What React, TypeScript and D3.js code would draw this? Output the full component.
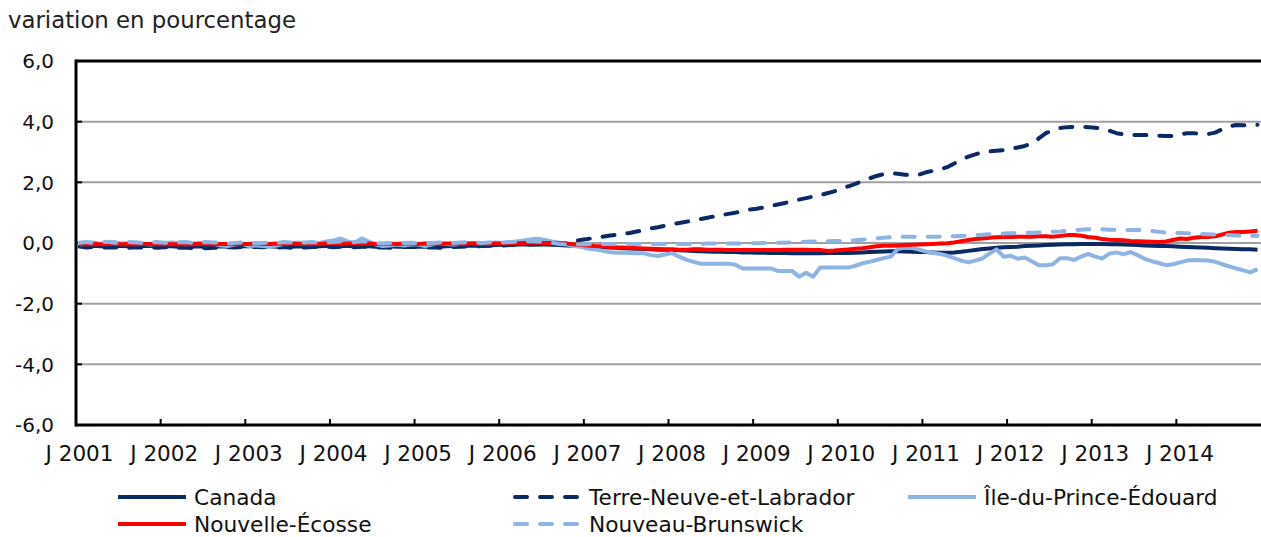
import * as d3 from "d3";

const FONT = "'DejaVu Sans', Verdana, sans-serif";

const yearLabels = ["J 2001", "J 2002", "J 2003", "J 2004", "J 2005", "J 2006", "J 2007", "J 2008", "J 2009", "J 2010", "J 2011", "J 2012", "J 2013", "J 2014"];
const yTicks = [-6, -4, -2, 0, 2, 4, 6];

// monthly values, Jan 2001 - Dec 2014 (one row per year)
const canada = [
  -0.08, -0.1, -0.09, -0.11, -0.1, -0.09, -0.1, -0.11, -0.1, -0.09, -0.1, -0.11,
  -0.1, -0.11, -0.12, -0.11, -0.12, -0.11, -0.12, -0.12, -0.11, -0.12, -0.11, -0.1,
  -0.11, -0.1, -0.1, -0.11, -0.12, -0.11, -0.12, -0.11, -0.12, -0.12, -0.11, -0.1,
  -0.1, -0.09, -0.1, -0.11, -0.1, -0.11, -0.12, -0.12, -0.11, -0.12, -0.12, -0.11,
  -0.12, -0.12, -0.11, -0.12, -0.11, -0.1, -0.1, -0.09, -0.09, -0.08, -0.08, -0.07,
  -0.06, -0.06, -0.05, -0.05, -0.05, -0.04, -0.05, -0.06, -0.07, -0.08, -0.09, -0.1,
  -0.12, -0.13, -0.14, -0.15, -0.16, -0.17, -0.18, -0.19, -0.2, -0.21, -0.22, -0.22,
  -0.23, -0.24, -0.25, -0.26, -0.27, -0.28, -0.29, -0.29, -0.3, -0.3, -0.31, -0.31,
  -0.32, -0.32, -0.33, -0.33, -0.33, -0.34, -0.34, -0.34, -0.34, -0.34, -0.33, -0.33,
  -0.33, -0.33, -0.32, -0.31, -0.3, -0.29, -0.28, -0.27, -0.27, -0.28, -0.29, -0.3,
  -0.3, -0.31, -0.32, -0.32, -0.31, -0.29, -0.26, -0.23, -0.2, -0.18, -0.16, -0.14,
  -0.13, -0.12, -0.1, -0.09, -0.08, -0.07, -0.06, -0.05, -0.04, -0.04, -0.03, -0.03,
  -0.03, -0.03, -0.04, -0.04, -0.05, -0.06, -0.07, -0.08, -0.09, -0.1, -0.1, -0.11,
  -0.12, -0.13, -0.14, -0.15, -0.16, -0.17, -0.18, -0.19, -0.2, -0.21, -0.21, -0.22,
];

const terreNeuve = [
  -0.12, -0.15, -0.13, -0.16, -0.14, -0.15, -0.13, -0.16, -0.14, -0.15, -0.13, -0.16,
  -0.14, -0.15, -0.16, -0.15, -0.17, -0.15, -0.17, -0.16, -0.15, -0.14, -0.15, -0.13,
  -0.15, -0.13, -0.14, -0.12, -0.15, -0.13, -0.16, -0.14, -0.15, -0.13, -0.14, -0.12,
  -0.14, -0.12, -0.13, -0.14, -0.12, -0.13, -0.15, -0.14, -0.16, -0.14, -0.13, -0.12,
  -0.14, -0.15, -0.14, -0.16, -0.15, -0.13, -0.12, -0.11, -0.12, -0.1, -0.09, -0.1,
  -0.08, -0.07, -0.05, -0.04, -0.05, -0.04, -0.05, -0.04, -0.03, 0.0, 0.05, 0.1,
  0.13, 0.17, 0.2, 0.24, 0.27, 0.3, 0.33, 0.38, 0.43, 0.48, 0.52, 0.57,
  0.62, 0.66, 0.7, 0.75, 0.79, 0.83, 0.88, 0.92, 0.96, 1.0, 1.05, 1.1,
  1.13, 1.17, 1.22, 1.27, 1.32, 1.37, 1.43, 1.48, 1.53, 1.58, 1.64, 1.7,
  1.8, 1.87, 1.95, 2.05, 2.13, 2.21, 2.27, 2.3, 2.28, 2.25, 2.24, 2.25,
  2.33, 2.38, 2.43, 2.5, 2.62, 2.75, 2.85, 2.92, 3.0, 3.02, 3.04, 3.06,
  3.1, 3.15, 3.2, 3.28, 3.45, 3.62, 3.72, 3.79, 3.82, 3.83, 3.83, 3.82,
  3.8, 3.77, 3.7, 3.62, 3.58, 3.56, 3.56, 3.56, 3.55, 3.54, 3.53, 3.53,
  3.58, 3.62, 3.62, 3.6, 3.59, 3.64, 3.75, 3.85, 3.89, 3.88, 3.88, 3.9,
];

const ilePE = [
  -0.05, 0.0, 0.02, -0.03, 0.0, 0.03, -0.02, 0.0, 0.02, -0.02, -0.05, -0.02,
  0.0, 0.02, 0.0, -0.04, -0.02, 0.0, 0.02, -0.03, -0.08, -0.1, -0.05, -0.02,
  -0.1, -0.08, -0.1, -0.12, -0.08, -0.03, 0.0, 0.02, 0.0, -0.02, 0.0, 0.05,
  0.08, 0.15, 0.05, 0.0, 0.15, 0.05, -0.05, -0.1, -0.08, -0.05, -0.08, -0.05,
  -0.05, -0.1, -0.05, 0.0, -0.03, -0.05, -0.03, 0.0, 0.0, -0.02, 0.0, 0.02,
  0.0, 0.02, 0.05, 0.08, 0.12, 0.14, 0.1, 0.05, 0.01, -0.05, -0.1, -0.12,
  -0.18, -0.21, -0.25, -0.3, -0.32, -0.32, -0.33, -0.34, -0.34, -0.4, -0.43, -0.38,
  -0.33, -0.45, -0.55, -0.62, -0.68, -0.68, -0.68, -0.68, -0.68, -0.72, -0.84, -0.84,
  -0.84, -0.84, -0.84, -0.92, -0.92, -0.92, -1.11, -0.98, -1.11, -0.81, -0.81, -0.81,
  -0.81, -0.81, -0.75, -0.67, -0.62, -0.56, -0.5, -0.45, -0.2, -0.15, -0.16, -0.22,
  -0.28, -0.32, -0.36, -0.42, -0.5, -0.58, -0.64, -0.58, -0.51, -0.35, -0.21, -0.45,
  -0.42, -0.52, -0.48, -0.6, -0.73, -0.73, -0.7, -0.5, -0.5, -0.56, -0.45, -0.36,
  -0.45, -0.51, -0.35, -0.31, -0.37, -0.3, -0.4, -0.52, -0.6, -0.66, -0.73, -0.7,
  -0.64, -0.58, -0.56, -0.57, -0.58, -0.62, -0.7, -0.77, -0.84, -0.9, -0.97, -0.86,
];

const nouvelleEcosse = [
  -0.03, -0.04, -0.03, -0.04, -0.03, -0.03, -0.04, -0.03, -0.04, -0.03, -0.03, -0.04,
  -0.03, -0.04, -0.04, -0.03, -0.04, -0.03, -0.03, -0.04, -0.03, -0.03, -0.04, -0.03,
  -0.03, -0.02, -0.03, -0.03, -0.02, -0.03, -0.02, -0.03, -0.03, -0.02, -0.03, -0.02,
  -0.02, -0.03, -0.02, -0.02, -0.03, -0.02, -0.03, -0.03, -0.02, -0.03, -0.02, -0.02,
  -0.03, -0.02, -0.02, -0.03, -0.02, -0.02, -0.03, -0.02, -0.02, -0.02, -0.03, -0.02,
  -0.02, -0.02, -0.01, 0.0, 0.01, 0.01, 0.0, 0.0, -0.01, -0.02, -0.04, -0.06,
  -0.08, -0.1, -0.11, -0.12, -0.14, -0.15, -0.16, -0.17, -0.18, -0.19, -0.2, -0.21,
  -0.21, -0.22, -0.22, -0.21, -0.21, -0.22, -0.22, -0.22, -0.23, -0.23, -0.23, -0.23,
  -0.23, -0.23, -0.23, -0.23, -0.22, -0.22, -0.22, -0.22, -0.23, -0.23, -0.26, -0.25,
  -0.23, -0.21, -0.19, -0.17, -0.14, -0.11, -0.09, -0.09, -0.08, -0.07, -0.06, -0.05,
  -0.04, -0.03, -0.02, -0.01, 0.02, 0.06, 0.1, 0.13, 0.15, 0.17, 0.19, 0.2,
  0.2, 0.21, 0.21, 0.21, 0.22, 0.22, 0.21, 0.23, 0.26, 0.26, 0.24, 0.2,
  0.17, 0.13, 0.11, 0.1, 0.09, 0.07, 0.06, 0.05, 0.04, 0.03, 0.05, 0.1,
  0.15, 0.13, 0.17, 0.2, 0.2, 0.22, 0.28, 0.34, 0.36, 0.36, 0.38, 0.4,
];

const nouveauBrunswick = [
  0.01, 0.03, 0.0, 0.02, 0.04, 0.01, 0.0, 0.03, 0.02, 0.0, 0.02, 0.03,
  0.01, 0.0, 0.02, 0.03, 0.0, 0.01, 0.03, 0.02, 0.0, -0.02, 0.0, 0.02,
  0.0, -0.02, 0.0, 0.02, 0.0, 0.03, 0.02, 0.0, 0.02, 0.03, 0.01, 0.02,
  0.03, 0.05, 0.02, 0.03, 0.06, 0.03, 0.0, -0.02, 0.0, 0.02, 0.0, 0.01,
  0.0, -0.02, 0.0, 0.02, 0.01, 0.0, 0.02, 0.03, 0.02, 0.0, 0.02, 0.03,
  0.02, 0.03, 0.04, 0.05, 0.06, 0.05, 0.03, 0.0, -0.03, -0.04, -0.04, -0.04,
  -0.04, -0.03, -0.03, -0.03, -0.03, -0.03, -0.03, -0.03, -0.03, -0.03, -0.03, -0.03,
  -0.03, -0.03, -0.03, -0.03, -0.03, -0.02, -0.02, -0.02, -0.02, -0.02, -0.01, -0.01,
  -0.01, 0.0, 0.0, 0.01, 0.01, 0.02, 0.03, 0.04, 0.05, 0.06, 0.06, 0.07,
  0.07, 0.08, 0.09, 0.11, 0.13, 0.15, 0.17, 0.19, 0.2, 0.21, 0.21, 0.21,
  0.21, 0.21, 0.21, 0.22, 0.22, 0.23, 0.24, 0.26, 0.27, 0.29, 0.3, 0.31,
  0.32, 0.32, 0.33, 0.34, 0.35, 0.36, 0.37, 0.38, 0.4, 0.42, 0.44, 0.45,
  0.46, 0.45, 0.44, 0.43, 0.43, 0.43, 0.43, 0.42, 0.4, 0.37, 0.34, 0.33,
  0.33, 0.32, 0.31, 0.3, 0.29, 0.28, 0.27, 0.26, 0.25, 0.24, 0.24, 0.23,
];

const NAVY = "#0b2a63";
const LIGHT = "#8db4e2";
const RED = "#ff0000";

const series = [
  { name: "Canada", values: canada, color: NAVY, dash: null },
  { name: "Terre-Neuve-et-Labrador", values: terreNeuve, color: NAVY, dash: "12,13" },
  { name: "Île-du-Prince-Édouard", values: ilePE, color: LIGHT, dash: null },
  { name: "Nouvelle-Écosse", values: nouvelleEcosse, color: RED, dash: null },
  { name: "Nouveau-Brunswick", values: nouveauBrunswick, color: LIGHT, dash: "12,13" },
];

// legend grid: [col, row]
const legendPos = [[0, 0], [1, 0], [2, 0], [0, 1], [1, 1]];
const legendCols = [118, 513, 908];
const legendRows = [497, 524];

const W = 1261;
const H = 537;
const margin = { top: 61, right: 0, bottom: 112, left: 76 };

export default function App() {
  const months = d3.range(canada.length);
  const x = d3.scaleBand<number>().domain(months).range([margin.left, W - margin.right]).padding(0);
  const cx = (i: number) => (x(i) as number) + x.bandwidth() / 2;
  const y = d3.scaleLinear().domain([-6, 6]).range([H - margin.bottom, margin.top]);

  const line = d3
    .line<number>()
    .x((_, i) => cx(i))
    .y((d) => y(d));

  const yearStarts = yearLabels.map((_, k) => k * 12);

  return (
    <svg width={W} height={H} style={{ position: "absolute", left: 0, top: 0, fontFamily: FONT }}>
      <rect x={0} y={0} width={W} height={H} fill="#fff" />
      <text x={8} y={28} fontSize={22.8} fill="#222">variation en pourcentage</text>

      {/* gridlines */}
      {yTicks.filter((t) => t !== -6 && t !== 6).map((t) => (
        <line key={t} x1={margin.left} x2={W} y1={y(t)} y2={y(t)} stroke="#a0a0a0" strokeWidth={2} />
      ))}
      <line x1={margin.left} x2={W} y1={y(6)} y2={y(6)} stroke="#000" strokeWidth={3} />

      {/* y labels and ticks */}
      {yTicks.map((t) => (
        <g key={t}>
          <line x1={margin.left} x2={margin.left + 6} y1={y(t)} y2={y(t)} stroke="#000" strokeWidth={2} />
          <text x={54} y={y(t)} dy="0.36em" textAnchor="end" fontSize={20} fill="#111">
            {d3.format(".1f")(t).replace(".", ",").replace("−", "-")}
          </text>
        </g>
      ))}

      {/* series */}
      {series.map((s) => (
        <path
          key={s.name}
          d={line(s.values) ?? ""}
          fill="none"
          stroke={s.color}
          strokeWidth={4}
          strokeLinejoin="round"
          strokeLinecap={s.dash ? "round" : "butt"}
          strokeDasharray={s.dash ?? undefined}
        />
      ))}

      {/* axes */}
      <line x1={margin.left} x2={margin.left} y1={margin.top - 1.5} y2={y(-6) + 1.5} stroke="#000" strokeWidth={3} />
      <line x1={margin.left} x2={W} y1={y(-6)} y2={y(-6)} stroke="#000" strokeWidth={3} />
      {yearStarts.slice(1).map((i) => (
        <line key={i} x1={x(i) as number} x2={x(i) as number} y1={y(-6)} y2={y(-6) - 6} stroke="#000" strokeWidth={2} />
      ))}
      {yearLabels.map((l, k) => (
        <text key={l} x={cx(yearStarts[k])} y={461} textAnchor="middle" fontSize={21.5} fill="#111">
          {l}
        </text>
      ))}

      {/* legend */}
      {series.map((s, k) => {
        const [c, r] = legendPos[k];
        const lx = legendCols[c];
        const ly = legendRows[r];
        return (
          <g key={s.name}>
            <line
              x1={lx + (s.dash ? 2 : 0)}
              x2={lx + 68 - (s.dash ? 2 : 0)}
              y1={ly}
              y2={ly}
              stroke={s.color}
              strokeWidth={4}
              strokeLinecap={s.dash ? "round" : "butt"}
              strokeDasharray={s.dash ?? undefined}
            />
            <text x={lx + 76} y={ly} dy="0.35em" fontSize={21.7} fill="#111">
              {s.name}
            </text>
          </g>
        );
      })}
    </svg>
  );
}
